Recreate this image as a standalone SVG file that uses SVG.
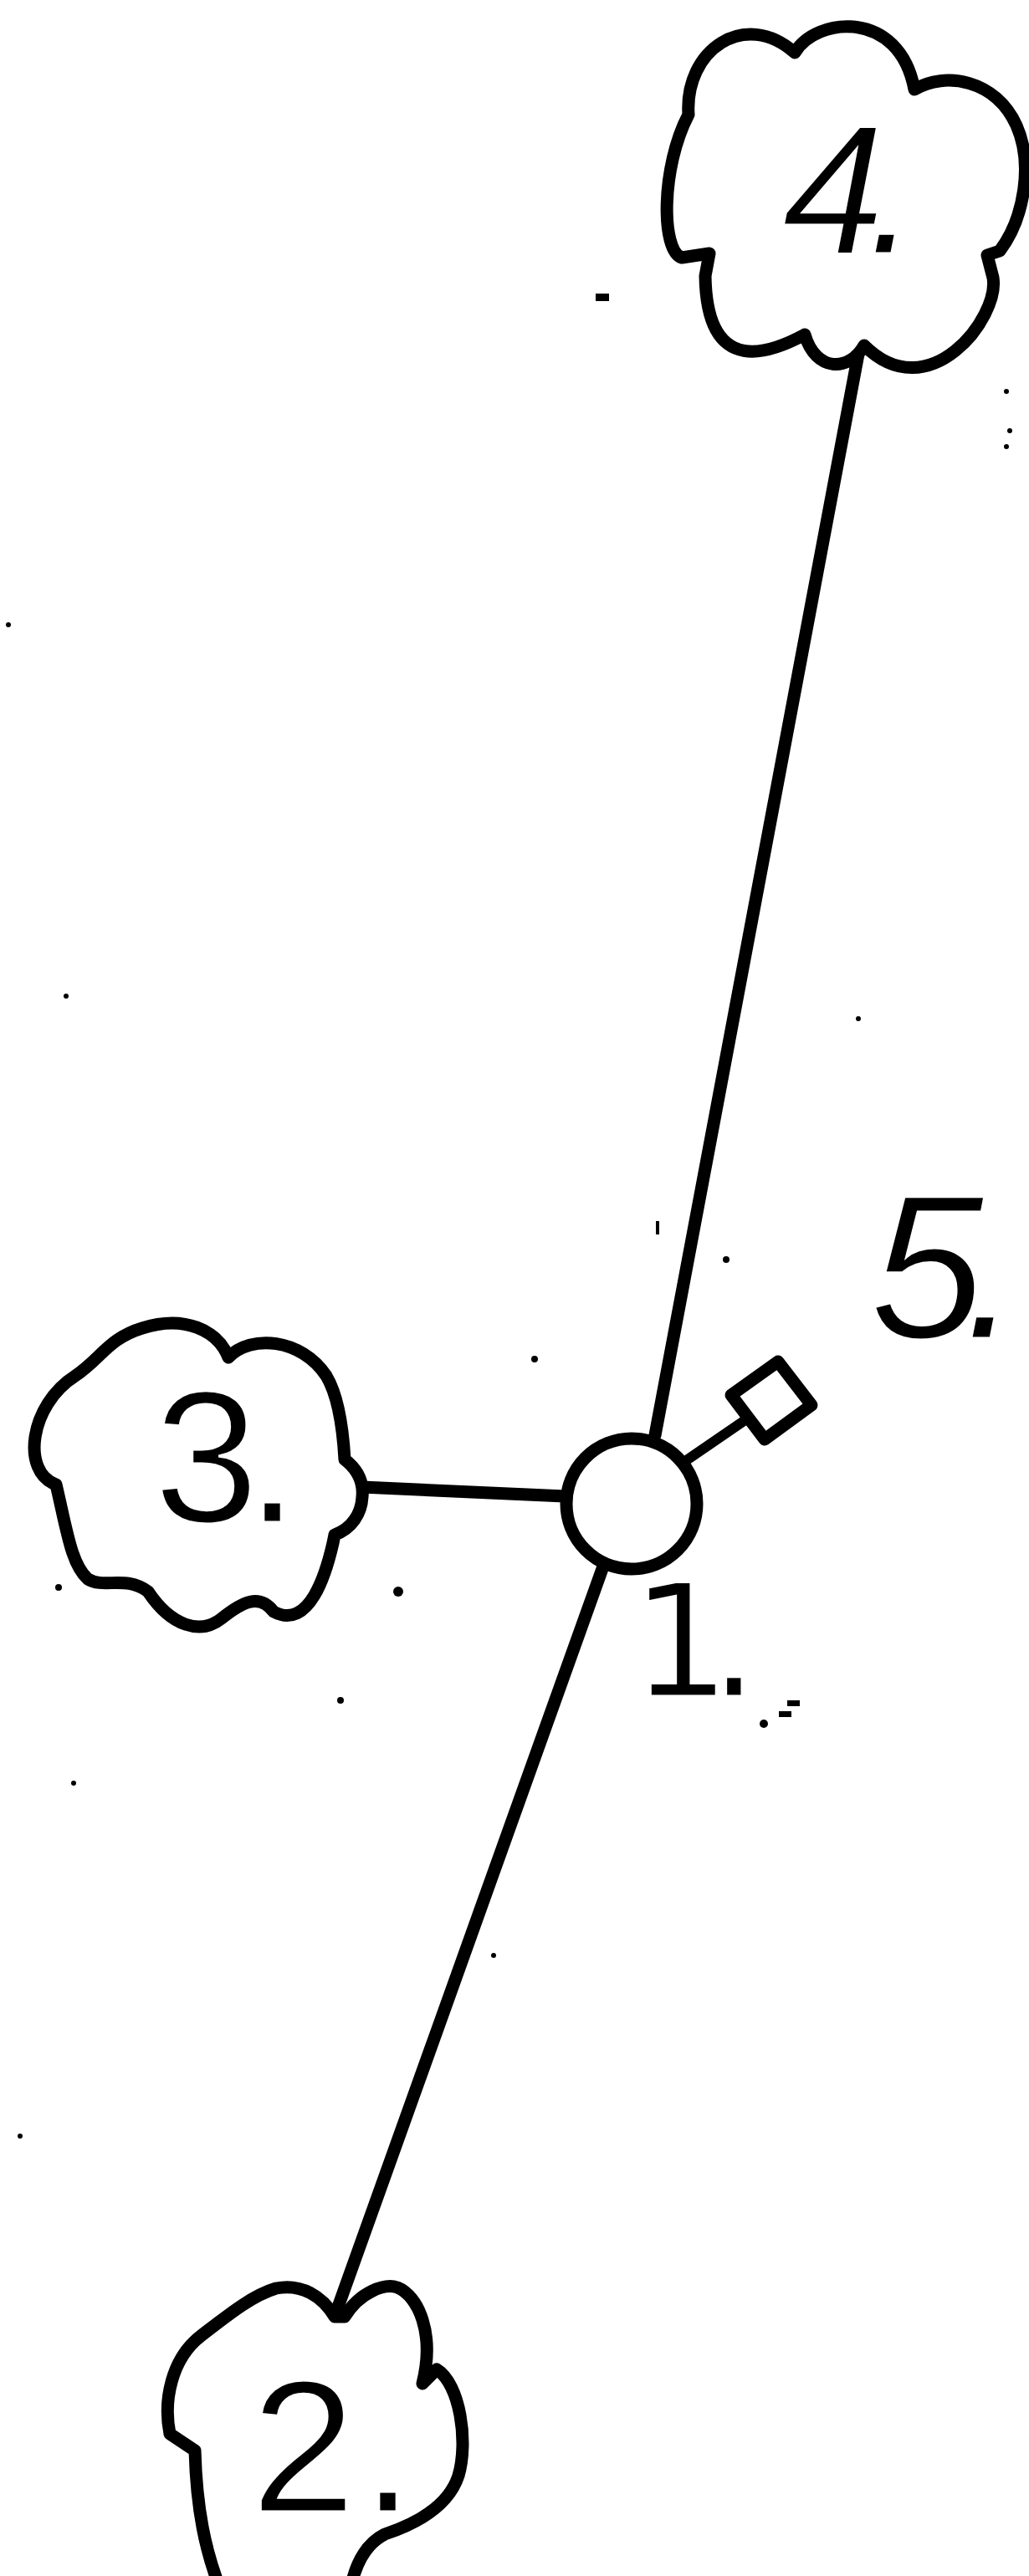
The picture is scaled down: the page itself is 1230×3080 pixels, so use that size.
<svg xmlns="http://www.w3.org/2000/svg" width="1230" height="3080" viewBox="0 0 1230 3080">
<style>
.bg{fill:#ffffff}
.cloud{fill:#ffffff;stroke:#000;stroke-width:15;stroke-linejoin:round;stroke-linecap:round}
.edge{fill:none;stroke:#000;stroke-width:15;stroke-linecap:round}
.thin{fill:none;stroke:#000;stroke-width:12;stroke-linecap:round}
.hub{fill:#ffffff;stroke:#000;stroke-width:15}
.lbl{font-family:"Liberation Sans",Arial,sans-serif;fill:#000;stroke:#fff;stroke-width:3}
.lbl1{font-family:"DejaVu Sans","Liberation Sans",sans-serif;fill:#000;stroke:#fff;stroke-width:3}
.speck{fill:#000}
</style>
<rect class="bg" x="0" y="0" width="1230" height="3080"/>

<g id="connectors">
  <line class="edge" x1="1030" y1="402" x2="783" y2="1716"/>
  <line class="edge" x1="433" y1="1778" x2="675" y2="1789"/>
  <line class="edge" x1="722" y1="1870" x2="397" y2="2778"/>
  <ellipse cx="393" cy="2781" rx="18" ry="14" fill="#000"/>
  <line class="thin" x1="822" y1="1745" x2="892" y2="1697"/>
</g>

<g id="node4">
  <path class="cloud" d="M823,137 C818,60 890,10 950,63 C975,20 1075,10 1093,107 C1130,85 1190,95 1215,150 C1235,195 1225,260 1195,300 L1180,305 L1187,332 C1195,380 1110,490 1033,413 C1015,445 975,445 962,400 C925,420 845,455 843,330 L848,303 L815,308 C790,300 790,200 823,137 Z"/>
  <text class="lbl" x="935" y="303" font-size="220" font-style="italic" letter-spacing="-21">4.</text>
</g>

<g id="node3">
  <path class="cloud" d="M67,1775 C25,1760 35,1680 90,1645 C120,1625 130,1600 170,1588 C220,1572 260,1590 273,1623 C300,1595 360,1600 390,1645 C405,1670 410,1710 412,1745 C425,1755 435,1770 433,1790 C432,1810 420,1828 400,1835 L398,1845 C390,1880 370,1950 327,1927 C310,1905 290,1915 265,1935 C240,1955 205,1945 177,1903 C150,1883 125,1900 105,1888 C85,1870 80,1830 67,1775 Z"/>
  <text class="lbl" x="184" y="1820" font-size="225" letter-spacing="-15">3.</text>
</g>

<g id="node2">
  <path class="cloud" d="M233,2930 L203,2910 C195,2870 205,2820 240,2793 C270,2770 300,2745 330,2736 C360,2730 385,2745 400,2770 L412,2770 C430,2740 460,2730 475,2735 C500,2745 520,2790 505,2850 L522,2833 C550,2850 560,2920 548,2960 C535,3000 490,3020 460,3030 C440,3040 425,3060 418,3100 L265,3100 C245,3050 235,3000 233,2930 Z"/>
  <text class="lbl" x="300" y="3003" font-size="225" letter-spacing="7">2.</text>
</g>

<g id="node1">
  <circle class="hub" cx="755" cy="1798" r="78"/>
  <text class="lbl1" x="754" y="2028" font-size="188" letter-spacing="-26">1.</text>
</g>

<g id="node5">
  <polygon class="hub" points="930,1628 970,1680 914,1721 874,1668" stroke-linejoin="round"/>
  <text class="lbl" x="1040" y="1600" font-size="245" font-style="italic" letter-spacing="-25">5.</text>
</g>

<g id="specks">
  <rect class="speck" x="712" y="351" width="16" height="9"/>
  <circle class="speck" cx="10" cy="747" r="3"/>
  <circle class="speck" cx="79" cy="1191" r="3"/>
  <circle class="speck" cx="1026" cy="1218" r="3"/>
  <rect class="speck" x="784" y="1460" width="4" height="16"/>
  <circle class="speck" cx="868" cy="1506" r="4"/>
  <circle class="speck" cx="639" cy="1625" r="4"/>
  <circle class="speck" cx="476" cy="1903" r="6"/>
  <circle class="speck" cx="70" cy="1898" r="4"/>
  <circle class="speck" cx="407" cy="2033" r="4"/>
  <circle class="speck" cx="88" cy="2132" r="3"/>
  <circle class="speck" cx="590" cy="2338" r="3"/>
  <circle class="speck" cx="24" cy="2554" r="3"/>
  <circle class="speck" cx="1203" cy="468" r="3"/>
  <circle class="speck" cx="1207" cy="515" r="3"/>
  <circle class="speck" cx="1203" cy="534" r="3"/>
  <rect class="speck" x="941" y="2033" width="15" height="7"/>
  <rect class="speck" x="931" y="2046" width="15" height="7"/>
  <circle class="speck" cx="913" cy="2061" r="5"/>
</g>
</svg>
